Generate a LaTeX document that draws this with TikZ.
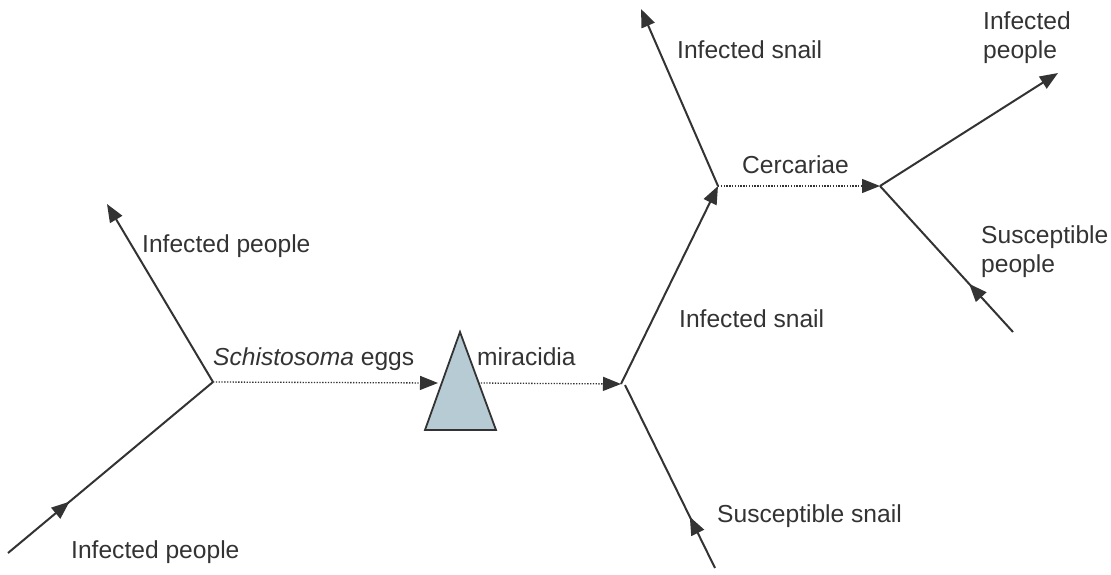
\documentclass[tikz,border=0pt]{standalone}
\usepackage{fontspec}
\setmainfont{Liberation Sans}
\usetikzlibrary{arrows.meta,decorations.markings}
\definecolor{ink}{HTML}{333333}
\definecolor{trifill}{HTML}{B7CBD5}
\tikzset{
  tip/.style={-{Triangle[length=18pt,width=14pt]}},
  solidline/.style={draw=ink,line width=2pt},
  dotline/.style={draw=ink,line width=1.3pt,dash pattern=on 1.3pt off 1.5pt},
  midarrow/.style={postaction={decorate},decoration={markings,
      mark=at position #1 with {\arrow{Triangle[length=18pt,width=14pt]}}}},
  lbl/.style={inner sep=0pt,anchor=base west,text=ink,font=\fontsize{24.6}{28.5}\selectfont,align=left},
}
\begin{document}
\begin{tikzpicture}[x=1pt,y=-1pt]
\useasboundingbox (0,0) rectangle (1111,574);
% coordinates
\coordinate (bl) at (8,553);
\coordinate (j1) at (213,382);
\coordinate (ul) at (107,204);
\coordinate (triL) at (438,383);
\coordinate (triR) at (478,383);
\coordinate (j2) at (621,384);
\coordinate (j2b) at (625,385);
\coordinate (ss) at (715,568);
\coordinate (j3) at (718,186);
\coordinate (is) at (641,9);
\coordinate (j4) at (880,186);
\coordinate (ip) at (1058,73);
\coordinate (sp) at (1013,332);
\coordinate (apex) at (460,332);
\coordinate (bR) at (496,430);
\coordinate (bL) at (425,430);
% triangle
\filldraw[draw=ink,fill=trifill,line width=1.8pt,line join=miter] (apex) -- (bR) -- (bL) -- cycle;
% solid connectors
\draw[solidline,midarrow=0.3] (bl) -- (j1);
\draw[solidline,tip] (j1) -- (ul);
\draw[solidline,tip] (j2) -- (j3);
\draw[solidline,tip] (j3) -- (is);
\draw[solidline,midarrow=0.28] (ss) -- (j2b);
\draw[solidline,tip] (j4) -- (ip);
\draw[solidline,midarrow=0.33] (sp) -- (j4);
% dotted connectors
\draw[dotline,tip] (j1) -- (triL);
\draw[dotline,tip] (triR) -- (j2);
\draw[dotline,tip] (j3) -- (j4);
% labels
\node[lbl] (t1) at (142,252) {Infected people};
\node[lbl] (t2) at (71,558) {Infected people};
\node[lbl] (t3) at (213,365) {\textit{Schistosoma} eggs};
\node[lbl] (t4) at (477,365) {miracidia};
\node[lbl] (t5) at (677,58) {Infected snail};
\node[lbl] (t6) at (742,173) {Cercariae};
\node[lbl] (t7) at (679,327) {Infected snail};
\node[lbl] (t8) at (717,522) {Susceptible snail};
\node[lbl] (t9) at (983,58) {Infected\\people};
\node[lbl] (t10) at (981,272) {Susceptible\\people};
\end{tikzpicture}
\end{document}
